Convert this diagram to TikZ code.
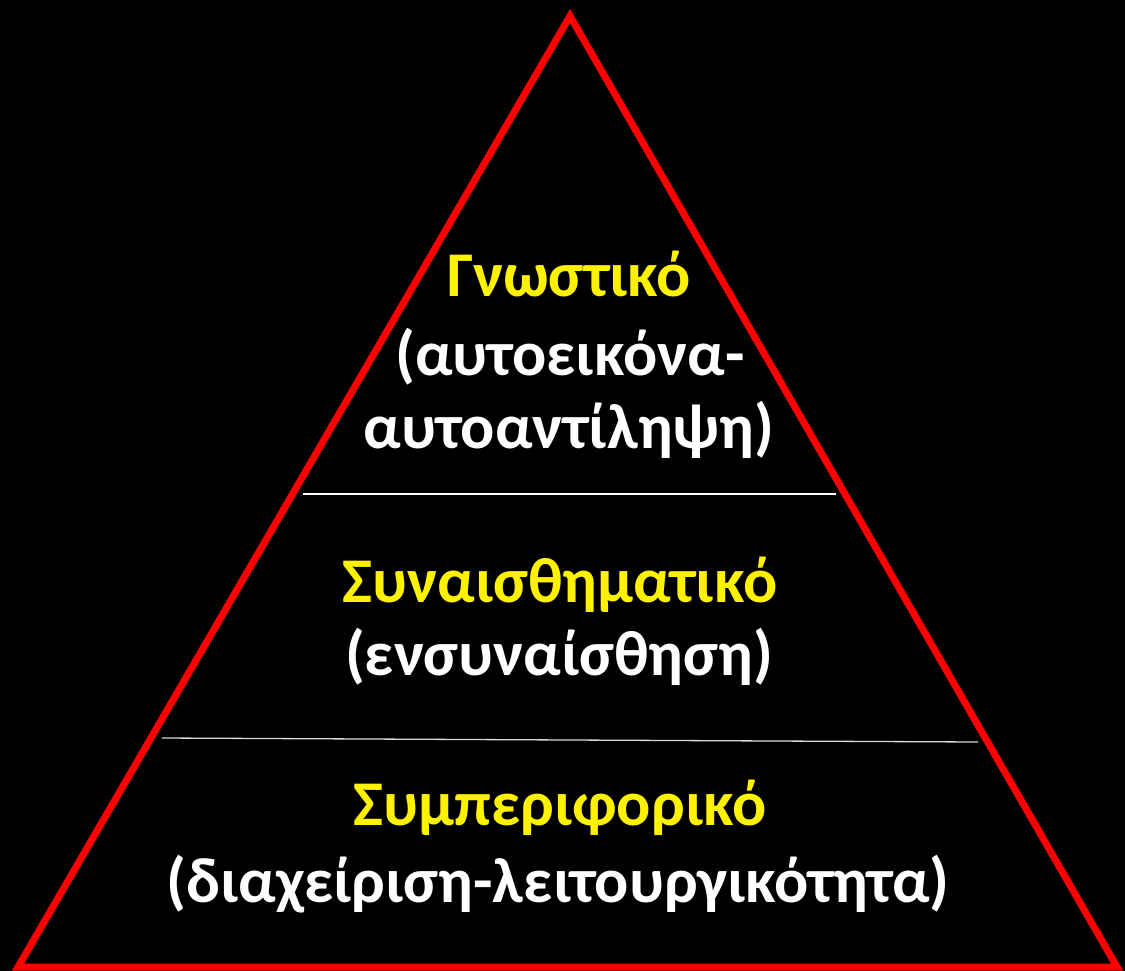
\documentclass[tikz,border=0pt]{standalone}
\usepackage{fontspec}
\setmainfont{Carlito}
\begin{document}
\begin{tikzpicture}[x=1bp, y=-1bp, font=\fontsize{64}{68}\selectfont\bfseries,
  level/.style={yellow, anchor=base, inner sep=0pt},
  gloss/.style={white, anchor=base, inner sep=0pt},
  divider/.style={white, line width=1.3bp}]
%% --- background ---
\fill[black] (0,0) rectangle (1125,971);
\useasboundingbox (0,0) rectangle (1125,971);
%% --- triangle ---
\draw[red, line width=7bp, line join=miter] (570,16) -- (1117,967) -- (18,967) -- cycle;
%% --- dividers ---
\draw[divider] (303,494) -- (836,494);
\draw[divider, white!85!black] (162,738) -- (978,742);
%% --- levels ---
\node[level] (gnost)   at (569,296) {Γνωστικό};
\node[gloss] (gnostA)  at (570,375) {(αυτοεικόνα-};
\node[gloss] (gnostB)  at (569,448) {αυτοαντίληψη)};
\node[level] (synais)  at (560,602) {Συναισθηματικό};
\node[gloss] (synaisA) at (559,675) {(ενσυναίσθηση)};
\node[level] (symper)  at (560,825) {Συμπεριφορικό};
\node[gloss] (symperA) at (558,902) {(διαχείριση-λειτουργικότητα)};
\end{tikzpicture}
\end{document}
